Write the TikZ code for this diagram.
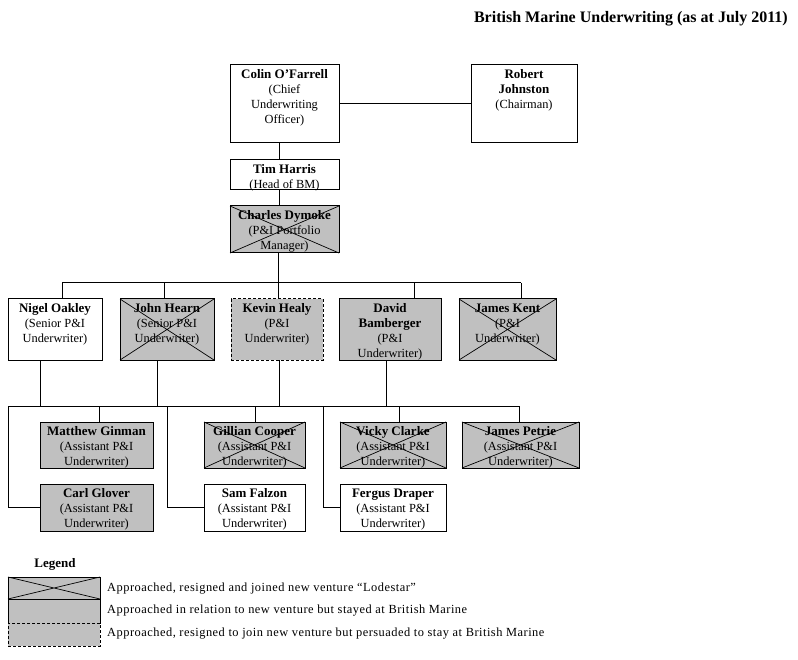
\documentclass[tikz,border=0pt]{standalone}
\usepackage{fontspec}
\setmainfont{Liberation Serif}
\definecolor{boxgray}{RGB}{192,192,192}
\newcommand\nm[1]{{\fontsize{13}{15}\selectfont\bfseries #1}}
\tikzset{
  box/.style={draw, line width=1pt, anchor=north west, inner sep=0pt, outer sep=0pt},
  grey/.style={fill=boxgray},
  dashedbox/.style={dash pattern=on 3pt off 2pt},
  lbl/.style={anchor=north, align=center, inner sep=0pt, font=\fontsize{12.4}{15}\selectfont},
  conn/.style={line width=1pt},
  crossline/.style={line width=0.7pt},
  legtext/.style={anchor=base west, inner sep=0pt, font=\fontsize{12.4}{15}\selectfont\addfontfeature{LetterSpace=4}},
}
\newcommand\mybox[7]{%
  \node[box,#6,minimum width={(#4-#2)*1pt},minimum height={(#5-#3)*1pt}] (#1) at (#2,#3) {};
  \node[lbl] (#1-t) at ([yshift=-4.5pt]#1.north) {#7};
}
\newcommand\mycross[1]{%
  \draw[crossline] (#1.north west) -- (#1.south east) (#1.north east) -- (#1.south west);
}
\begin{document}
\begin{tikzpicture}[x=1pt,y=-1pt]
\useasboundingbox (0,0) rectangle (798,660);

% title
\node[anchor=base east, inner sep=0pt, font=\fontsize{16}{18}\selectfont\bfseries] (title) at (788,23) {British Marine Underwriting (as at July 2011)};

% top
\mybox{colin}{230}{65}{339}{143}{fill=white}{\nm{Colin O’Farrell}\\(Chief\\Underwriting\\Officer)}
\mybox{robert}{471}{65}{577}{143}{fill=white}{\nm{Robert}\\\nm{Johnston}\\(Chairman)}
\mybox{tim}{230}{160}{339}{190}{fill=white}{\nm{Tim Harris}\\(Head of BM)}
\mybox{charles}{230}{206}{339}{253}{grey}{\nm{Charles Dymoke}\\(P\&I Portfolio\\Manager)}
\mycross{charles}

% row 2
\mybox{nigel}{8}{299}{102}{360}{fill=white}{\nm{Nigel Oakley}\\(Senior P\&I\\Underwriter)}
\mybox{john}{120}{299}{214}{360}{grey}{\nm{John Hearn}\\(Senior P\&I\\Underwriter)}
\mycross{john}
\mybox{kevin}{231}{299}{323}{360}{grey,dashedbox}{\nm{Kevin Healy}\\(P\&I\\Underwriter)}
\mybox{david}{339}{299}{441}{360}{grey}{\nm{David}\\\nm{Bamberger}\\(P\&I\\Underwriter)}
\mybox{kent}{459}{299}{556}{360}{grey}{\nm{James Kent}\\(P\&I\\Underwriter)}
\mycross{kent}

% row 3
\mybox{matthew}{40}{422}{153}{468}{grey}{\nm{Matthew Ginman}\\(Assistant P\&I\\Underwriter)}
\mybox{gillian}{204}{422}{305}{468}{grey}{\nm{Gillian Cooper}\\(Assistant P\&I\\Underwriter)}
\mycross{gillian}
\mybox{vicky}{340}{422}{446}{468}{grey}{\nm{Vicky Clarke}\\(Assistant P\&I\\Underwriter)}
\mycross{vicky}
\mybox{petrie}{462}{422}{579}{468}{grey}{\nm{James Petrie}\\(Assistant P\&I\\Underwriter)}
\mycross{petrie}

% row 4
\mybox{carl}{40}{484}{153}{531}{grey}{\nm{Carl Glover}\\(Assistant P\&I\\Underwriter)}
\mybox{sam}{204}{484}{305}{531}{fill=white}{\nm{Sam Falzon}\\(Assistant P\&I\\Underwriter)}
\mybox{fergus}{340}{484}{446}{531}{fill=white}{\nm{Fergus Draper}\\(Assistant P\&I\\Underwriter)}

% connectors top
\coordinate (v0) at (279,0);
\draw[conn] (colin.east) -- (robert.west);
\draw[conn] (colin.south -| v0) -- (tim.north -| v0);
\draw[conn] (tim.south -| v0) -- (charles.north -| v0);

% bus 1
\coordinate (b1w) at (62,283);
\coordinate (b1e) at (521,283);
\coordinate (j1) at (164,283);
\coordinate (k1) at (278,283);
\coordinate (dv1) at (414,283);
\draw[conn] (b1w) -- (b1e);
\draw[conn] (charles.south -| k1) -- (kevin.north -| k1);
\draw[conn] (b1w) -- (b1w |- nigel.north);
\draw[conn] (j1) -- (j1 |- john.north);
\draw[conn] (dv1) -- (dv1 |- david.north);
\draw[conn] (b1e) -- (b1e |- kent.north);

% bus 2
\coordinate (b2w) at (8,406);
\coordinate (b2e) at (519,406);
\coordinate (u1) at (40,406);
\coordinate (u2) at (157,406);
\coordinate (u3) at (279,406);
\coordinate (u4) at (386,406);
\coordinate (d2) at (99,406);
\coordinate (d3) at (167,406);
\coordinate (d4) at (255,406);
\coordinate (d5) at (323,406);
\coordinate (d6) at (399,406);
\draw[conn] (b2w) -- (b2e);
\draw[conn] (nigel.south -| u1) -- (u1);
\draw[conn] (john.south -| u2) -- (u2);
\draw[conn] (kevin.south -| u3) -- (u3);
\draw[conn] (david.south -| u4) -- (u4);
\draw[conn] (b2w) |- (carl.west);
\draw[conn] (d2) -- (d2 |- matthew.north);
\draw[conn] (d3) |- (sam.west);
\draw[conn] (d4) -- (d4 |- gillian.north);
\draw[conn] (d5) |- (fergus.west);
\draw[conn] (d6) -- (d6 |- vicky.north);
\draw[conn] (b2e) -- (b2e |- petrie.north);

% legend
\node[anchor=base, inner sep=0pt, font=\fontsize{13}{15}\selectfont\bfseries] (legend) at (55,567) {Legend};
\node[box,grey,minimum width=92pt,minimum height=22pt] (lg1) at (8,577) {};
\mycross{lg1}
\node[box,grey,minimum width=92pt,minimum height=24pt] (lg2) at (8,599) {};
\node[box,grey,dashedbox,minimum width=92pt,minimum height=23pt] (lg3) at (8,623) {};
\node[legtext] (lt1) at (107,591) {Approached, resigned and joined new venture “Lodestar”};
\node[legtext] (lt2) at (107,613) {Approached in relation to new venture but stayed at British Marine};
\node[legtext] (lt3) at (107,636) {Approached, resigned to join new venture but persuaded to stay at British Marine};
\end{tikzpicture}
\end{document}
